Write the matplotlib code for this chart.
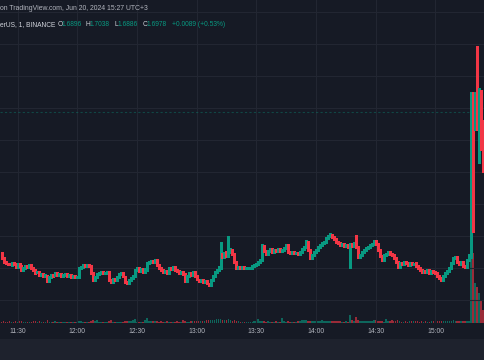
import numpy as np
import matplotlib.pyplot as plt
from matplotlib.patches import Rectangle

# 1-minute candles from 11:22 onward (index 0 = 11:22)
closes = [
    1.6063, 1.6038, 1.6031, 1.6025, 1.6019, 1.6031, 1.6025, 1.6006, 1.6025, 1.6013,
    1.5988, 1.6000, 1.6013, 1.6006, 1.6019, 1.6000, 1.5988, 1.5969, 1.5975, 1.5956,
    1.5963, 1.5950, 1.5956, 1.5919, 1.5944, 1.5956, 1.5950, 1.5969, 1.5956, 1.5963,
    1.5950, 1.5956, 1.5963, 1.5950, 1.5956, 1.5944, 1.5950, 1.5944, 1.5944, 1.6000,
    1.6006, 1.6019, 1.6013, 1.6019, 1.6013, 1.5969, 1.5925, 1.5944, 1.5963, 1.5969,
    1.5975, 1.5969, 1.5969, 1.5975, 1.5925, 1.5913, 1.5931, 1.5925, 1.5944, 1.5963,
    1.5969, 1.5950, 1.5913, 1.5906, 1.5925, 1.5938, 1.5950, 1.5988, 1.6000, 1.5981,
    1.5994, 1.5975, 1.5988, 1.6031, 1.6038, 1.6044, 1.6038, 1.6050, 1.6019, 1.6000,
    1.5988, 1.5975, 1.5981, 1.5969, 1.6000, 1.5994, 1.6006, 1.5988, 1.5981, 1.5969,
    1.5975, 1.5963, 1.5919, 1.5950, 1.5969, 1.5956, 1.5975, 1.5950, 1.5931, 1.5919,
    1.5925, 1.5913, 1.5919, 1.5906, 1.5894, 1.5925, 1.5950, 1.5975, 1.5988, 1.6000,
    1.6081, 1.6069, 1.6094, 1.6075, 1.6100, 1.6113, 1.6088, 1.6038, 1.6000, 1.6006,
    1.6000, 1.6006, 1.6000, 1.6000, 1.6000, 1.6000, 1.6013, 1.6019, 1.6025, 1.6038,
    1.6050, 1.6138, 1.6106, 1.6088, 1.6106, 1.6119, 1.6100, 1.6113, 1.6106, 1.6119,
    1.6106, 1.6113, 1.6125, 1.6144, 1.6100, 1.6094, 1.6100, 1.6094, 1.6094, 1.6088,
    1.6100, 1.6119, 1.6131, 1.6163, 1.6113, 1.6063, 1.6081, 1.6100, 1.6113, 1.6131,
    1.6144, 1.6156, 1.6163, 1.6188, 1.6200, 1.6206, 1.6194, 1.6181, 1.6163, 1.6156,
    1.6144, 1.6150, 1.6138, 1.6144, 1.6131, 1.6150, 1.6138, 1.6156, 1.6131, 1.6069,
    1.6081, 1.6100, 1.6113, 1.6125, 1.6131, 1.6144, 1.6150, 1.6169, 1.6150, 1.6113,
    1.6075, 1.6050, 1.6081, 1.6088, 1.6100, 1.6088, 1.6081, 1.6063, 1.6038, 1.6006,
    1.6031, 1.6025, 1.6038, 1.6031, 1.6019, 1.6031, 1.6025, 1.6031, 1.6013, 1.6000,
    1.5988, 1.5975, 1.5981, 1.5975, 1.5988, 1.5969, 1.5981, 1.5975, 1.5969, 1.5950,
    1.5938, 1.5925, 1.5950, 1.5969, 1.5981, 1.6000, 1.6031, 1.6063, 1.6069, 1.6038,
    1.6025, 1.6038, 1.6013, 1.6006, 1.6050, 1.6081,
    1.6944, 1.6300, 1.7050, 1.6913, 1.7100, 1.6756, 1.6750,
]
first_open = 1.6094
# opens of the spike candles after the first one (they gap away from prior close)
spike_opens = [1.7050, 1.6906, 1.6988, 1.6913, 1.7100, 1.6906]

upper_wick = [
    0.0006, 0.0004, 0.0005, 0.0003, 0.0006, 0.0004, 0.0008, 0.0005, 0.0004, 0.0006,
    0.0005, 0.0007, 0.0004, 0.0005, 0.0006, 0.0003, 0.0005, 0.0004, 0.0006, 0.0005,
    0.0004, 0.0006, 0.0005, 0.0003, 0.0006, 0.0005, 0.0004, 0.0007, 0.0005, 0.0004,
    0.0005, 0.0004, 0.0006, 0.0003, 0.0005, 0.0004, 0.0006, 0.0005, 0.0004, 0.0008,
    0.0006, 0.0005, 0.0004, 0.0006, 0.0005, 0.0003, 0.0005, 0.0004, 0.0006, 0.0005,
    0.0004, 0.0005, 0.0003, 0.0006, 0.0004, 0.0005, 0.0006, 0.0004, 0.0005, 0.0006,
    0.0005, 0.0004, 0.0003, 0.0005, 0.0004, 0.0006, 0.0008, 0.0006, 0.0005, 0.0004,
    0.0006, 0.0005, 0.0009, 0.0006, 0.0005, 0.0007, 0.0006, 0.0008, 0.0004, 0.0005,
    0.0004, 0.0006, 0.0005, 0.0004, 0.0006, 0.0005, 0.0007, 0.0004, 0.0005, 0.0004,
    0.0006, 0.0005, 0.0003, 0.0006, 0.0005, 0.0004, 0.0006, 0.0004, 0.0005, 0.0003,
    0.0005, 0.0004, 0.0006, 0.0004, 0.0003, 0.0006, 0.0005, 0.0007, 0.0006, 0.0010,
    0.0081, 0.0012, 0.0008, 0.0010, 0.0100, 0.0012, 0.0008, 0.0006, 0.0005, 0.0004,
    0.0006, 0.0005, 0.0004, 0.0005, 0.0003, 0.0006, 0.0005, 0.0004, 0.0006, 0.0007,
    0.0005, 0.0013, 0.0008, 0.0006, 0.0005, 0.0007, 0.0006, 0.0004, 0.0006, 0.0005,
    0.0007, 0.0006, 0.0005, 0.0006, 0.0004, 0.0005, 0.0006, 0.0004, 0.0005, 0.0006,
    0.0004, 0.0005, 0.0006, 0.0013, 0.0008, 0.0005, 0.0004, 0.0006, 0.0005, 0.0007,
    0.0006, 0.0005, 0.0006, 0.0008, 0.0006, 0.0013, 0.0007, 0.0005, 0.0004, 0.0006,
    0.0005, 0.0004, 0.0006, 0.0005, 0.0004, 0.0009, 0.0006, 0.0005, 0.0050, 0.0008,
    0.0006, 0.0005, 0.0007, 0.0005, 0.0006, 0.0005, 0.0004, 0.0008, 0.0006, 0.0005,
    0.0004, 0.0006, 0.0005, 0.0006, 0.0004, 0.0005, 0.0006, 0.0004, 0.0005, 0.0003,
    0.0005, 0.0006, 0.0004, 0.0005, 0.0006, 0.0004, 0.0005, 0.0003, 0.0006, 0.0005,
    0.0004, 0.0005, 0.0006, 0.0004, 0.0005, 0.0003, 0.0006, 0.0004, 0.0005, 0.0006,
    0.0004, 0.0005, 0.0006, 0.0007, 0.0006, 0.0008, 0.0006, 0.0005, 0.0004, 0.0006,
    0.0005, 0.0004, 0.0006, 0.0005, 0.0008, 0.0006,
    0.0156, 0.0050, 0.0050, 0.0400, 0.0025, 0.0013, 0.0019,
]
lower_wick = [
    0.0005, 0.0006, 0.0004, 0.0005, 0.0003, 0.0006, 0.0005, 0.0004, 0.0006, 0.0005,
    0.0004, 0.0005, 0.0006, 0.0004, 0.0005, 0.0006, 0.0004, 0.0005, 0.0003, 0.0006,
    0.0005, 0.0004, 0.0006, 0.0005, 0.0004, 0.0006, 0.0005, 0.0003, 0.0006, 0.0004,
    0.0006, 0.0005, 0.0004, 0.0006, 0.0005, 0.0004, 0.0005, 0.0006, 0.0004, 0.0005,
    0.0004, 0.0006, 0.0005, 0.0004, 0.0006, 0.0005, 0.0006, 0.0004, 0.0005, 0.0006,
    0.0005, 0.0004, 0.0006, 0.0005, 0.0006, 0.0008, 0.0005, 0.0004, 0.0006, 0.0005,
    0.0004, 0.0006, 0.0005, 0.0008, 0.0006, 0.0005, 0.0004, 0.0005, 0.0006, 0.0004,
    0.0005, 0.0006, 0.0004, 0.0005, 0.0006, 0.0004, 0.0005, 0.0006, 0.0005, 0.0004,
    0.0006, 0.0005, 0.0004, 0.0006, 0.0005, 0.0004, 0.0006, 0.0005, 0.0004, 0.0006,
    0.0005, 0.0004, 0.0006, 0.0005, 0.0004, 0.0006, 0.0005, 0.0004, 0.0006, 0.0005,
    0.0004, 0.0006, 0.0005, 0.0006, 0.0008, 0.0005, 0.0004, 0.0006, 0.0005, 0.0004,
    0.0006, 0.0005, 0.0007, 0.0006, 0.0005, 0.0006, 0.0004, 0.0006, 0.0005, 0.0004,
    0.0005, 0.0006, 0.0004, 0.0005, 0.0006, 0.0004, 0.0005, 0.0006, 0.0005, 0.0004,
    0.0006, 0.0005, 0.0004, 0.0006, 0.0005, 0.0004, 0.0006, 0.0005, 0.0004, 0.0005,
    0.0006, 0.0004, 0.0005, 0.0006, 0.0004, 0.0005, 0.0006, 0.0005, 0.0004, 0.0006,
    0.0005, 0.0004, 0.0006, 0.0005, 0.0008, 0.0006, 0.0005, 0.0004, 0.0006, 0.0005,
    0.0004, 0.0006, 0.0005, 0.0004, 0.0006, 0.0005, 0.0004, 0.0006, 0.0005, 0.0004,
    0.0006, 0.0005, 0.0004, 0.0006, 0.0005, 0.0131, 0.0006, 0.0005, 0.0004, 0.0008,
    0.0005, 0.0006, 0.0004, 0.0005, 0.0006, 0.0004, 0.0005, 0.0006, 0.0005, 0.0008,
    0.0006, 0.0005, 0.0004, 0.0006, 0.0005, 0.0004, 0.0006, 0.0005, 0.0004, 0.0006,
    0.0005, 0.0004, 0.0006, 0.0005, 0.0004, 0.0006, 0.0005, 0.0004, 0.0006, 0.0005,
    0.0004, 0.0006, 0.0005, 0.0004, 0.0006, 0.0005, 0.0004, 0.0006, 0.0005, 0.0004,
    0.0006, 0.0006, 0.0005, 0.0004, 0.0006, 0.0005, 0.0004, 0.0006, 0.0005, 0.0004,
    0.0006, 0.0005, 0.0004, 0.0006, 0.0005, 0.0006,
    0.0018, 0.0075, 0.0043, 0.0050, 0.0257, 0.0018, 0.0150,
]
volumes = [
    1.5, 2.0, 1.2, 1.0, 1.8, 1.3, 1.1, 2.2, 1.4, 1.6,
    1.9, 1.2, 1.0, 1.5, 1.3, 1.1, 1.7, 2.4, 1.2, 1.6,
    1.0, 1.4, 1.2, 2.6, 1.5, 1.1, 1.3, 1.6, 1.0, 1.2,
    1.4, 1.1, 1.0, 1.3, 1.2, 1.5, 1.1, 1.4, 1.2, 2.5,
    1.6, 1.3, 1.1, 1.2, 1.0, 2.1, 2.8, 1.7, 3.0, 1.2,
    1.1, 1.3, 1.0, 1.2, 2.4, 2.7, 1.5, 1.3, 1.4, 1.2,
    1.1, 1.3, 2.5, 2.2, 1.6, 1.8, 3.2, 4.0, 1.5, 1.3,
    1.4, 1.2, 3.5, 5.5, 2.0, 1.6, 1.8, 2.3, 1.7, 1.5,
    1.6, 1.2, 1.4, 1.8, 1.3, 1.2, 1.5, 1.4, 1.7, 1.3,
    1.5, 2.6, 1.8, 1.5, 1.3, 1.6, 1.9, 2.2, 1.8, 1.6,
    1.7, 1.9, 2.4, 2.8, 3.0, 3.5, 2.6, 3.0, 4.0, 4.5,
    4.2, 3.0, 3.2, 2.8, 4.0, 2.6, 2.4, 3.2, 2.0, 1.6,
    1.4, 1.2, 1.1, 1.3, 1.2, 1.4, 1.5, 1.6, 2.0, 3.8,
    2.4, 1.8, 1.6, 1.5, 1.7, 1.3, 1.5, 1.4, 1.6, 1.3,
    1.5, 5.3, 2.2, 1.5, 1.6, 1.4, 1.3, 1.2, 1.5, 1.8,
    2.0, 3.0, 2.6, 3.4, 2.2, 1.8, 1.9, 2.3, 2.0, 2.1,
    2.4, 2.8, 2.5, 2.2, 2.0, 2.4, 2.3, 2.0, 1.8, 1.6,
    1.7, 1.5, 1.4, 1.6, 1.5, 8.0, 2.6, 2.3, 6.0, 2.8,
    2.0, 1.9, 1.7, 1.6, 1.8, 2.0, 2.4, 2.6, 3.0, 2.0,
    1.8, 1.6, 1.5, 4.0, 2.2, 2.5, 3.0, 1.8, 1.7, 3.0,
    1.6, 1.5, 1.4, 1.6, 1.3, 1.8, 1.6, 1.7, 1.9, 1.6,
    1.5, 1.7, 1.4, 1.6, 1.5, 1.3, 1.8, 2.0, 2.3, 1.9,
    1.7, 2.2, 1.8, 1.6, 1.9, 2.4, 2.1, 3.5, 1.8, 1.6,
    1.9, 2.0, 1.7, 2.2, 2.4, 2.0,
    76, 70, 40, 36, 30, 23, 13,
]
last_price = 1.6978

time_ticks = [8, 38, 68, 98, 128, 158, 188, 218]
time_labels = ['11:30', '12:00', '12:30', '13:00', '13:30', '14:00', '14:30', '15:00']
grid_prices = [1.58, 1.60, 1.62, 1.64, 1.66, 1.68, 1.70, 1.72, 1.74, 1.76]

BG = '#161a25'
UP = '#089981'
DOWN = '#f23645'
UP_VOL = '#0e665c'
DOWN_VOL = '#9a2b38'
TXT = '#b2b5be'
plt.rcParams['font.family'] = ['Liberation Sans', 'DejaVu Sans']

c = np.array(closes)
o = np.array([first_open] + closes[:-1])
o[-len(spike_opens):] = spike_opens
h = np.maximum(o, c) + np.array(upper_wick)
l = np.minimum(o, c) - np.array(lower_wick)
x = np.arange(len(c))
rising = c >= o
col = [UP if r else DOWN for r in rising]
vcol = [UP_VOL if r else DOWN_VOL for r in rising]

W, H = 485, 360
fig = plt.figure(figsize=(W / 100, H / 100), dpi=100, facecolor=BG)
ax = fig.add_axes([0, 37 / H, 1, 323 / H])
axv = ax.twinx()
ax.set_zorder(axv.get_zorder() + 1)
ax.patch.set_visible(False)

# volume
axv.bar(x, volumes, width=0.85, color=vcol, lw=0, antialiased=False)
axv.set_ylim(0, 323)
axv.set_yticks([])
for s in axv.spines.values():
    s.set_visible(False)

# grid
for p in grid_prices:
    ax.axhline(p, color='#222632', lw=0.8, zorder=0)
for t in time_ticks:
    ax.axvline(t, color='#222632', lw=0.8, zorder=0)

# candles
ax.vlines(x, l, h, colors=col, lw=0.75, zorder=2, antialiased=False)
ax.bar(x, np.maximum(np.abs(c - o), 0.0005), bottom=np.minimum(o, c),
       width=0.7, color=col, lw=0, zorder=3, antialiased=False)
ax.axhline(last_price, color=UP, lw=0.8, ls=(0, (2, 2)), alpha=0.35, zorder=1)

ax.set_xlim(-0.8, 242.9)
ax.set_ylim(1.565625, 1.7675)
ax.set_xticks([])
ax.set_yticks([])
for s in ax.spines.values():
    s.set_visible(False)

for t, lab in zip(time_ticks, time_labels):
    ax.text(t, -8.5 / 323, lab, transform=ax.get_xaxis_transform(), ha='center',
            va='center', color=TXT, fontsize=4.9, clip_on=False)

# bottom panel
fig.patches.append(Rectangle((0, 0), 1, 21 / H, transform=fig.transFigure,
                             facecolor='#1e222d', edgecolor='none'))

# header
fs = 4.8
def hdr(px, py, s, color, size=fs):
    fig.text(px / W, 1 - py / H, s, color=color, fontsize=size, va='center', ha='left')

hdr(0.5, 8.5, 'on TradingView.com, Jun 20, 2024 15:27 UTC+3', TXT, 4.95)
hdr(0, 24.5, 'erUS, 1, BINANCE', '#d1d4dc')
for px, s in [(57.3, 'O'), (85.5, 'H'), (114.5, 'L'), (142.5, 'C')]:
    hdr(px, 24.5, s, '#d1d4dc')
for px, s in [(61.5, '1.6896'), (89.5, '1.7038'), (117.5, '1.6886'), (146.5, '1.6978'),
              (172, '+0.0089 (+0.53%)')]:
    hdr(px, 24.5, s, UP)

fig.savefig('out.png', dpi=100, facecolor=BG)
